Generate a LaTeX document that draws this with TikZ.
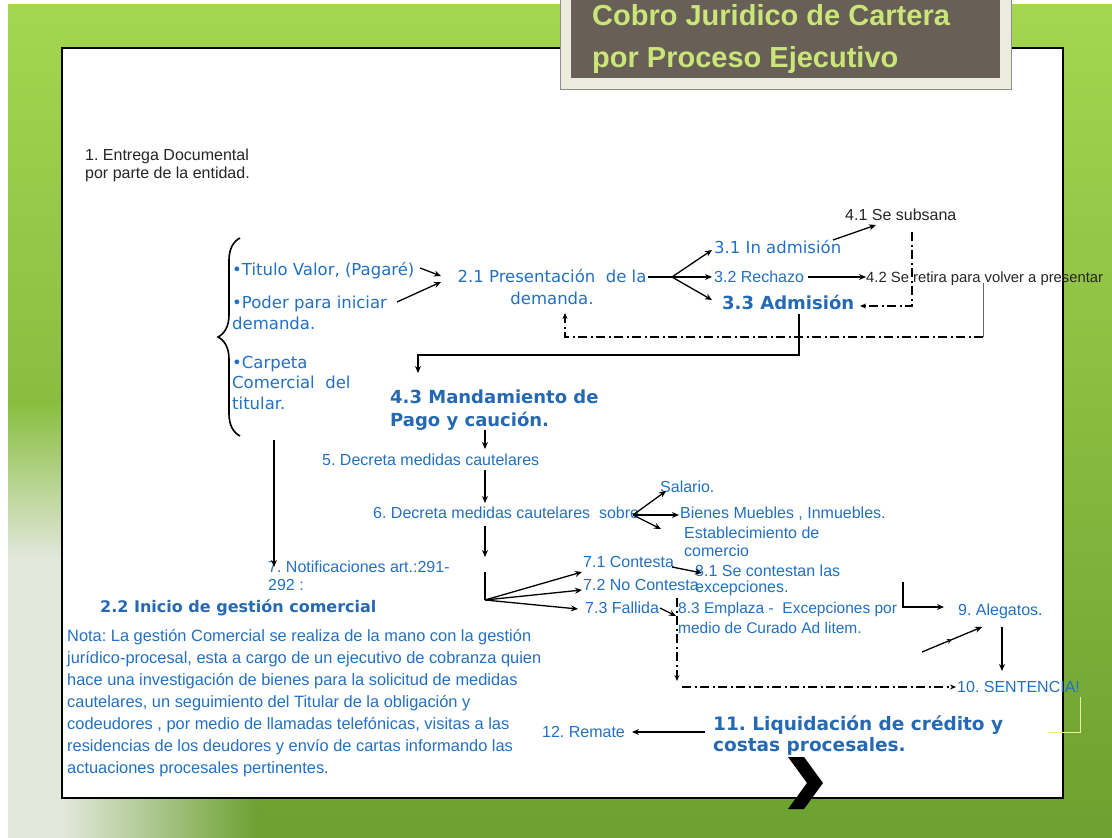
\documentclass[tikz,border=0pt]{standalone}
\usepackage{fontspec}
\setmainfont{Liberation Sans}
\newfontfamily\dvs{DejaVu Sans}
\newfontfamily\lib{Liberation Sans}
\usetikzlibrary{arrows.meta,decorations.pathreplacing,decorations.markings}
\definecolor{tb}{RGB}{35,112,195}
\definecolor{hb}{RGB}{38,105,178}
\definecolor{gtop}{RGB}{165,214,80}
\definecolor{gmid}{RGB}{135,190,60}
\definecolor{gbot}{RGB}{108,160,48}
\definecolor{pale}{RGB}{226,232,220}
\definecolor{ttl}{RGB}{202,230,122}
\definecolor{tbox}{RGB}{104,96,86}
\definecolor{tframe}{RGB}{236,236,222}
\definecolor{glow}{RGB}{235,240,150}
\frenchspacing
\begin{document}
\begin{tikzpicture}[x=1pt,y=-1pt,
  lnk/.style={line width=1.3pt,-{Stealth[length=7pt,width=6pt]}},
  pl/.style={line width=1.3pt},
  dd/.style={line width=1.2pt,dash pattern=on 9pt off 3.5pt on 2pt off 3.5pt},
  tr/.style={inner sep=0pt,anchor=base west,text=tb,font=\lib\fontsize{16}{18}\selectfont},
  tk/.style={tr,text=black!85},
  tv/.style={inner sep=0pt,anchor=base west,text=tb,font=\dvs\fontsize{16.5}{21}\selectfont},
  hd/.style={inner sep=0pt,anchor=base west,text=hb,font=\dvs\bfseries\fontsize{18}{23}\selectfont},
  ml/.style={anchor=north west,align=left}]
\useasboundingbox (0,0) rectangle (1112,838);
% background
\fill[white] (0,0) rectangle (1112,838);
\shade[top color=gtop,bottom color=gbot] (8,4) rectangle (1112,838);
\shade[top color=gmid,bottom color=pale] (8,400) rectangle (62,560);
\fill[pale] (8,560) rectangle (62,838);
\shade[left color=pale,right color=gbot] (62,798) rectangle (260,838);
% panel
\draw[line width=2pt,fill=white] (62,48) rectangle (1063,798);
% title box
\fill[tframe] (560,-5) rectangle (1011,89);
\draw[black!45,line width=0.8pt] (560,-5) rectangle (1011,89);
\fill[tbox] (571,-5) rectangle (1000,78);
\node[anchor=north west,inner sep=0pt,align=left,text=ttl,font=\lib\bfseries\fontsize{29}{42}\selectfont] (ttl) at (592,4) {Cobro Juridico de Cartera\\por Proceso Ejecutivo};
% texts
\node[tk,ml] (n1) at (85,148.8) {1. Entrega Documental\\por parte de la entidad.};
\node[tv] (tit) at (232,275.9) {•Titulo Valor, (Pagaré)};
\node[tv,ml] (pod) at (232,295.6) {•Poder para iniciar\\demanda.};
\node[tv,ml,font=\dvs\fontsize{16.5}{20.5}\selectfont] (car) at (232,355.6) {•Carpeta\\Comercial\ \ del\\titular.};
\node[tv,anchor=north,align=center,font=\dvs\fontsize{16.5}{22}\selectfont] (p21) at (552,268.6) {2.1 Presentación\ \ de la\\demanda.};
\node[tv] (t31) at (714,253.9) {3.1 In admisión};
\node[tr] (t32) at (714,282.8) {3.2 Rechazo};
\node[hd] (t33) at (722,309.5) {3.3 Admisión};
\node[tk] (t41) at (845,220.8) {4.1 Se subsana};
\node[tk,font=\lib\fontsize{14.8}{18}\selectfont] (t42) at (866,282.4) {4.2 Se retira para volver a presentar};
\node[hd,ml] (t43) at (390,390) {4.3 Mandamiento de\\Pago y caución.};
\node[tr] (t5) at (322,465.8) {5. Decreta medidas cautelares};
\node[tr] (t6) at (373,518.8) {6. Decreta medidas cautelares\ \ sobre};
\node[tr] (sal) at (660,492.8) {Salario.};
\node[tr] (bie) at (680,518.8) {Bienes Muebles , Inmuebles.};
\node[tr,ml] (est) at (684,526.8) {Establecimiento de\\comercio};
\node[tr,ml] (t7) at (268,560.8) {7. Notificaciones art.:291-\\292 :};
\node[tr] (t71) at (583,567.8) {7.1 Contesta};
\node[tr] (t72) at (583,590.8) {7.2 No Contesta};
\node[tr] (t73) at (585,613.8) {7.3 Fallida};
\node[tr,ml,font=\lib\fontsize{16}{16}\selectfont] (t81) at (695,564.8) {8.1 Se contestan las\\excepciones.};
\node[tr,ml,font=\lib\fontsize{15.5}{20}\selectfont] (t83) at (678,602) {8.3 Emplaza -\ \ Excepciones por\\medio de Curado Ad litem.};
\node[tr] (t9) at (958,615.8) {9. Alegatos.};
\node[tr] (t10) at (957,692.8) {10. SENTENCIA!};
\node[hd,ml,font=\dvs\bfseries\fontsize{18.5}{21}\selectfont] (t11) at (713,715) {11. Liquidación de crédito y\\costas procesales.};
\node[tr] (t12) at (542,737.8) {12. Remate};
\node[tr,text=hb,font=\dvs\bfseries\fontsize{16}{20}\selectfont] (t22) at (100,612.8) {2.2 Inicio de gestión comercial};
\node[tr,ml,font=\lib\fontsize{16.4}{22}\selectfont] (nota) at (67,629.6) {Nota: La gestión Comercial se realiza de la mano con la gestión\\jurídico-procesal, esta a cargo de un ejecutivo de cobranza quien\\hace una investigación de bienes para la solicitud de medidas\\cautelares, un seguimiento del Titular de la obligación y\\codeudores , por medio de llamadas telefónicas, visitas a las\\residencias de los deudores y envío de cartas informando las\\actuaciones procesales pertinentes.};
% brace
\draw[line width=1.6pt,decorate,decoration={brace,amplitude=22pt}] (240,436) -- (240,238);
% coordinates
\coordinate (titE) at (420,268);
\coordinate (podE) at (397,302);
\coordinate (in21a) at (441,276);
\coordinate (in21b) at (441,282);
\coordinate (p21E) at (648,277);
\coordinate (f21) at (672,277);
\coordinate (in31) at (712,250);
\coordinate (in32) at (712,277);
\coordinate (in33) at (712,300);
\coordinate (o31) at (833,240);
\coordinate (in41) at (876,225);
\coordinate (o32) at (808,277);
\coordinate (in42) at (866,277);
\coordinate (o41) at (912,232);
\coordinate (in33b) at (860,306);
\coordinate (g1) at (983,283);
\coordinate (g2) at (983,337);
\coordinate (in21c) at (565,313);
\coordinate (o33) at (799,314);
\coordinate (in43) at (418,373);
\coordinate (o43) at (485,430);
\coordinate (in5) at (485,449);
\coordinate (o5) at (485,470);
\coordinate (in6) at (485,503);
\coordinate (f6) at (633,515);
\coordinate (insal) at (666,491);
\coordinate (inbie) at (679,515);
\coordinate (inest) at (661,529);
\coordinate (o6) at (485,526);
\coordinate (in7f) at (485,557);
\coordinate (s7) at (485,572);
\coordinate (f7) at (485,600);
\coordinate (in71) at (582,572);
\coordinate (in72) at (582,590);
\coordinate (in73) at (578,609);
\coordinate (o71) at (672,567);
\coordinate (in81) at (702,573);
\coordinate (o73) at (660,608);
\coordinate (in83) at (676,616);
\coordinate (o72) at (677,598);
\coordinate (d72) at (677,681);
\coordinate (h1) at (682,687);
\coordinate (in10) at (956,687);
\coordinate (e1) at (903,582);
\coordinate (in9) at (944,607);
\coordinate (m1) at (922,652);
\coordinate (in9b) at (982,627);
\coordinate (o9) at (1002,627);
\coordinate (in10b) at (1002,671);
\coordinate (o11) at (705,732);
\coordinate (in12) at (632,732);
\coordinate (br) at (274,440);
\coordinate (in7) at (274,567);
% connectors
\draw[lnk] (titE) -- (in21a);
\draw[lnk] (podE) -- (in21b);
\draw[pl] (p21E) -- (f21);
\draw[lnk] (f21) -- (in31);
\draw[lnk] (f21) -- (in32);
\draw[lnk] (f21) -- (in33);
\draw[lnk] (o31) -- (in41);
\draw[lnk] (o32) -- (in42);
\draw[dd,-{Stealth[length=6pt,width=5pt]}] (o41) |- (in33b);
\draw[black!60,line width=0.6pt] (g1) -- (g2);
\draw[dd,-{Stealth[length=6pt,width=5pt]}] (g2) -| (in21c);
\draw[lnk] (o33) |- (599,355) -| (in43);
\draw[lnk] (o43) -- (in5);
\draw[lnk] (o5) -- (in6);
\draw[lnk] (f6) -- (insal);
\draw[lnk] (f6) -- (inbie);
\draw[lnk] (f6) -- (inest);
\draw[lnk] (o6) -- (in7f);
\draw[pl] (s7) -- (f7);
\draw[lnk] (f7) -- (in71);
\draw[lnk] (f7) -- (in72);
\draw[lnk] (f7) -- (in73);
\draw[lnk] (o71) -- (in81);
\draw[lnk] (o73) -- (in83);
\draw[dd,-{Stealth[length=6pt,width=5pt]}] (o72) -- (d72);
\draw[dd,-{Stealth[length=6pt,width=5pt]}] (h1) -- (in10);
\draw[lnk] (e1) |- (in9);
\draw[lnk,postaction={decorate,decoration={markings,mark=at position 0.5 with {\arrow{Stealth[length=5pt,width=5pt]}}}}] (m1) -- (in9b);
\draw[lnk] (o9) -- (in10b);
\draw[lnk] (o11) -- (in12);
\draw[lnk] (br) -- (in7);
\draw[glow,line width=1pt] (1080,697) -- (1080,732) -- (1048,732);
% chevron
\fill[black] (788,757) -- (804,757) -- (823,783) -- (804,809) -- (788,809) -- (807,783) -- cycle;
\end{tikzpicture}
\end{document}
